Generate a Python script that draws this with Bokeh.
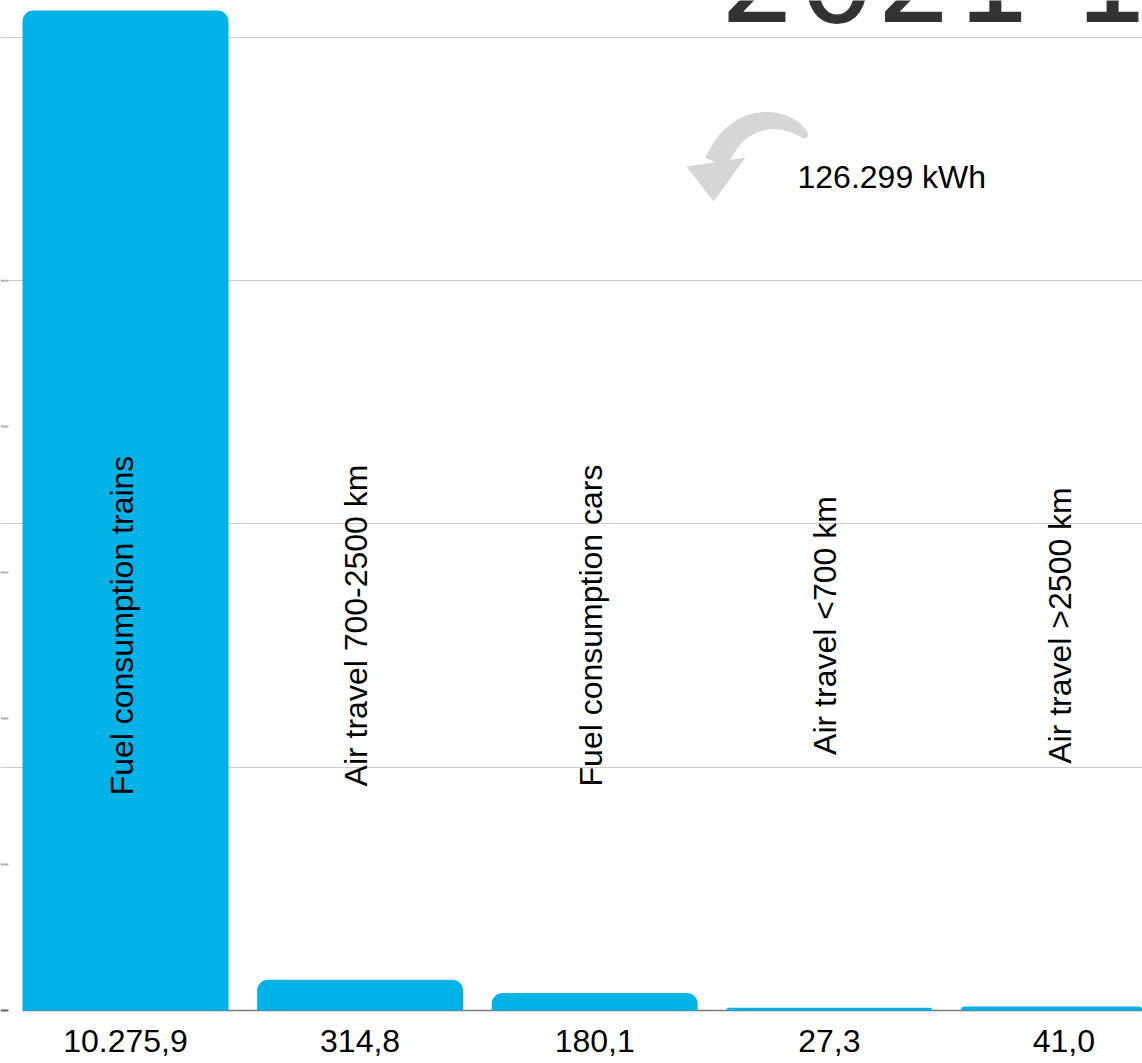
import numpy as np
from bokeh.plotting import figure
from bokeh.models import Range1d, Grid, FixedTicker, ColumnDataSource
from bokeh.core.properties import value
from bokeh.embed import file_html
from bokeh.resources import INLINE

# ---------------- data ----------------
categories = ["Fuel consumption trains", "Air travel 700-2500 km",
              "Fuel consumption cars", "Air travel <700 km", "Air travel >2500 km"]
values = [10275.9, 314.8, 180.1, 27.3, 41.0]
grid_values = [2500, 5000, 7500, 10000]
left_ticks = [1500, 3000, 4500, 6000, 7500]
title_text = "2021 1"
total_text = "126.299 kWh"

# ---------------- layout ----------------
W, H = 1142, 1063
STEP = 234.6                # px per category
FIRST = 125                 # x of first bar centre
BASE = 1010                 # y of value 0
K = 0.097316                # px per unit
BL = 0.365                  # baseline correction (em)

x0 = -FIRST / STEP
x1 = x0 + W / STEP


def dx(sx):
    return x0 + np.asarray(sx, dtype=float) / STEP


def dy(sy):
    return (BASE - np.asarray(sy, dtype=float)) / K


p = figure(width=W, height=H, output_backend="svg", toolbar_location=None,
           x_axis_type=None, y_axis_type=None,
           x_range=Range1d(x0, x1), y_range=Range1d(float(dy(H)), float(dy(0))),
           min_border=0, outline_line_color=None, background_fill_color="white")
p.grid.visible = False
p.add_layout(Grid(dimension=1, ticker=FixedTicker(ticks=grid_values),
                  grid_line_color="#cccccc", grid_line_width=1))

idx = list(range(len(categories)))
fmt = [f"{v:,.1f}".replace(",", "X").replace(".", ",").replace("X", ".") for v in values]
src = ColumnDataSource(dict(x=idx, top=values, cat=categories, lab=fmt))

# baseline
p.segment(x0=[idx[0] - 0.439], y0=[0], x1=[x1], y1=[0], line_color="#7a7a7a", line_width=1.5)
# left ticks
p.segment(x0=[x0] * len(left_ticks), y0=left_ticks, x1=[float(dx(8))] * len(left_ticks),
          y1=left_ticks, line_color="#b0b0b0", line_width=2)
p.segment(x0=[x0], y0=[0], x1=[float(dx(8))], y1=[0], line_color="#666666", line_width=2)

p.vbar(x="x", top="top", bottom=0, width=0.878, source=src,
       fill_color="#00B2E5", line_color=None, border_radius=(11, 11, 0, 0))

# category labels (rotated)
p.text(x="x", y=float(dy(625)), text="cat", source=src, angle=np.pi / 2,
       x_offset=-4, text_align="center", text_baseline="middle",
       text_font=value("Liberation Sans"), text_font_size="32px", text_color="black")

# value labels below axis
p.text(x="x", y=float(dy(1052 - BL * 32)), text="lab", source=src,
       text_align="center", text_baseline="alphabetic",
       text_font=value("Liberation Sans"), text_font_size="32px", text_color="black")

# total annotation
p.text(x=[float(dx(797))], y=[float(dy(188 - BL * 32))], text=[total_text],
       text_align="left", text_baseline="alphabetic",
       text_font=value("Liberation Sans"), text_font_size="32px", text_color="black")

# big title partially cut off (as in the reference)
p.text(x=[float(dx(719))], y=[float(dy(24 - BL * 123))], text=[title_text],
       text_align="left", text_baseline="alphabetic",
       text_font=value("DejaVu Sans"), text_font_size="123px", text_color="#333333")

# curved arrow (decoration)
P0 = np.array([806.0, 137.0]); P1 = np.array([790.0, 115.0])
P2 = np.array([738.0, 107.0]); P3 = np.array([716.0, 162.0])
t = np.linspace(0, 1, 60)[:, None]
B = (1 - t) ** 3 * P0 + 3 * (1 - t) ** 2 * t * P1 + 3 * (1 - t) * t ** 2 * P2 + t ** 3 * P3
D = 3 * (1 - t) ** 2 * (P1 - P0) + 6 * (1 - t) * t * (P2 - P1) + 3 * t ** 2 * (P3 - P2)
N = np.stack([-D[:, 1], D[:, 0]], axis=1)
N /= np.linalg.norm(N, axis=1)[:, None]
w = (4 + 20 * np.sqrt(t))
L = B + N * w / 2
R = B - N * w / 2
poly = np.vstack([L, R[::-1]])
p.patch(x=dx(poly[:, 0]), y=dy(poly[:, 1]), fill_color="#d6d6d6", line_color=None)
head = np.array([[686.0, 166.0], [745.0, 157.0], [713.0, 201.0]])
p.patch(x=dx(head[:, 0]), y=dy(head[:, 1]), fill_color="#d6d6d6", line_color=None)

open("out.html", "w").write(file_html(p, INLINE))
